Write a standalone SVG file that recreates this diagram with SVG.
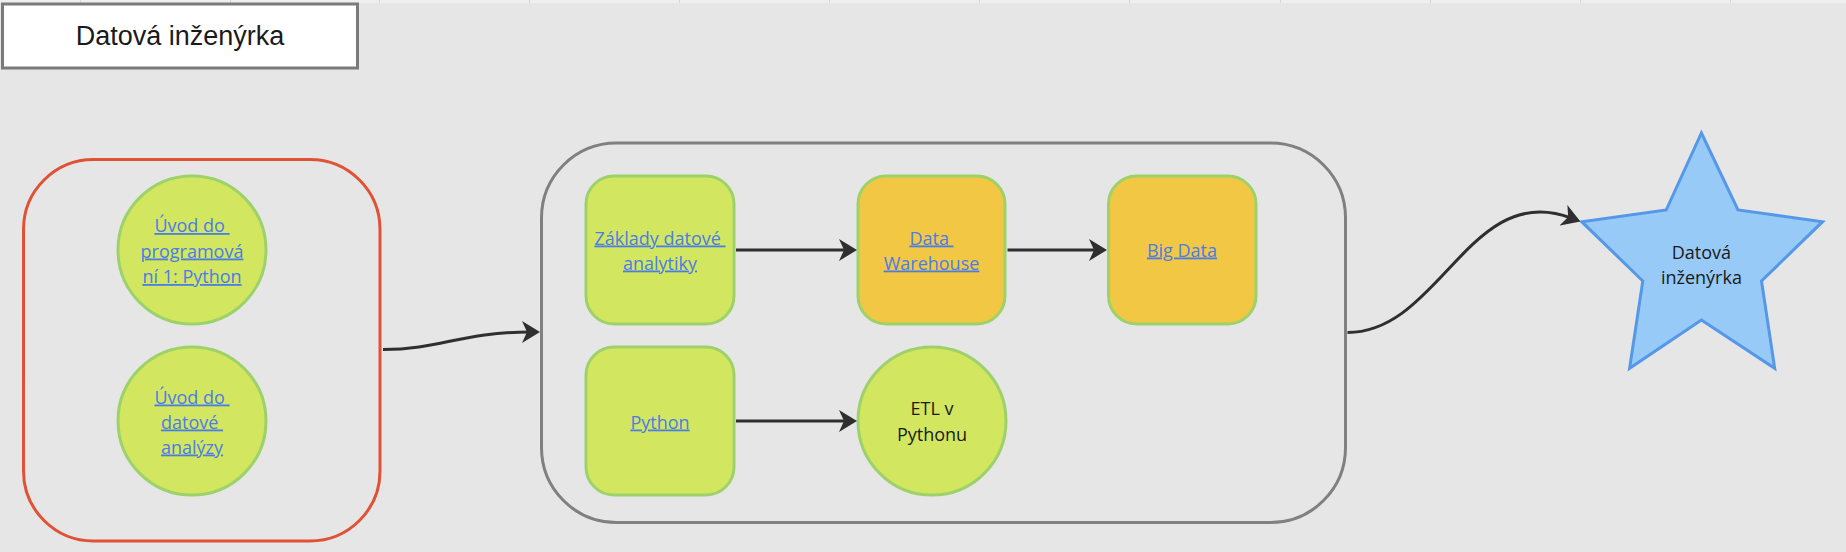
<svg xmlns="http://www.w3.org/2000/svg" width="1846" height="552" viewBox="0 0 1846 552">
  <style>
    .bg { fill: #e6e6e6; }
    .sep { stroke: #d6d6d6; stroke-width: 1; }
    .title-box { fill: #ffffff; stroke: #7a7a7a; stroke-width: 3; }
    .title { font-family: "Liberation Sans", Arial, sans-serif; font-size: 27px; fill: #1a1a1a; text-anchor: middle; }
    .frame-red { fill: none; stroke: #e05236; stroke-width: 3; }
    .frame-gray { fill: none; stroke: #808080; stroke-width: 3; }
    .green { fill: #d3e660; stroke: #9dd26b; stroke-width: 3; }
    .orange { fill: #f2c744; stroke: #9dd26b; stroke-width: 3; }
    .star { fill: #97caf6; stroke: #5598e8; stroke-width: 3; stroke-linejoin: miter; }
    .link { font-family: "Open Sans", "Noto Sans", sans-serif; font-size: 18px; fill: #4a7de6; text-anchor: middle; text-decoration: underline; }
    .lbl { font-family: "Open Sans", "Noto Sans", sans-serif; font-size: 18px; fill: #1a1a1a; text-anchor: middle; }
    .conn { fill: none; stroke: #2f2f2f; stroke-width: 3; }
  </style>
  <defs>
    <marker id="arrow" viewBox="0 -12 20 24" markerWidth="20" markerHeight="24" refX="8" refY="0" orient="auto" markerUnits="userSpaceOnUse">
      <path d="M0,-11 L18,0 L0,11 L5,0 Z" fill="#2f2f2f"/>
    </marker>
  </defs>

  <rect class="bg" x="0" y="0" width="1846" height="552"/>
  <g id="ruler">
    <rect x="0" y="0" width="1846" height="3" fill="#efefef"/>
    <line class="sep" x1="80.5" y1="0" x2="80.5" y2="3"/>
    <line class="sep" x1="230.5" y1="0" x2="230.5" y2="3"/>
    <line class="sep" x1="379.5" y1="0" x2="379.5" y2="3"/>
    <line class="sep" x1="529.5" y1="0" x2="529.5" y2="3"/>
    <line class="sep" x1="679.5" y1="0" x2="679.5" y2="3"/>
    <line class="sep" x1="829.5" y1="0" x2="829.5" y2="3"/>
    <line class="sep" x1="979.5" y1="0" x2="979.5" y2="3"/>
    <line class="sep" x1="1129.5" y1="0" x2="1129.5" y2="3"/>
    <line class="sep" x1="1280.5" y1="0" x2="1280.5" y2="3"/>
    <line class="sep" x1="1430.5" y1="0" x2="1430.5" y2="3"/>
    <line class="sep" x1="1580.5" y1="0" x2="1580.5" y2="3"/>
    <line class="sep" x1="1730.5" y1="0" x2="1730.5" y2="3"/>
  </g>

  <g id="title">
    <rect class="title-box" x="2.5" y="4" width="355" height="64"/>
    <text class="title" x="180" y="45">Datová inženýrka</text>
  </g>

  <g id="group-intro">
    <rect class="frame-red" x="23.5" y="159.5" width="356.5" height="381.5" rx="70" ry="70"/>
  </g>
  <g id="node-uvod-programovani">
    <circle class="green" cx="192" cy="250" r="74"/>
    <text class="link" x="192" xml:space="preserve"><tspan x="192" y="232">Úvod do </tspan><tspan x="192" y="257.5">programová</tspan><tspan x="192" y="283">ní 1: Python</tspan></text>
  </g>
  <g id="node-uvod-analyzy">
    <circle class="green" cx="192" cy="421" r="74"/>
    <text class="link" x="192" xml:space="preserve"><tspan x="192" y="403.5">Úvod do </tspan><tspan x="192" y="428.5">datové </tspan><tspan x="192" y="453.5">analýzy</tspan></text>
  </g>

  <g id="group-core">
    <rect class="frame-gray" x="541.5" y="143" width="804" height="379.5" rx="75" ry="75"/>
  </g>
  <g id="node-zaklady">
    <rect class="green" x="586" y="176" width="148" height="148" rx="28" ry="28"/>
    <text class="link" xml:space="preserve"><tspan x="660" y="244.5">Základy datové </tspan><tspan x="660" y="269.5">analytiky</tspan></text>
  </g>
  <g id="node-dw">
    <rect class="orange" x="858" y="176" width="147" height="148" rx="28" ry="28"/>
    <text class="link" xml:space="preserve"><tspan x="931.5" y="244.5">Data </tspan><tspan x="931.5" y="269.5">Warehouse</tspan></text>
  </g>
  <g id="node-bigdata">
    <rect class="orange" x="1108.5" y="176" width="147.5" height="148" rx="28" ry="28"/>
    <text class="link" x="1182" y="256.5">Big Data</text>
  </g>
  <g id="node-python">
    <rect class="green" x="586" y="347" width="148" height="148" rx="28" ry="28"/>
    <text class="link" x="660" y="428.5">Python</text>
  </g>
  <g id="node-etl">
    <circle class="green" cx="932" cy="421" r="74"/>
    <text class="lbl"><tspan x="932" y="414.5">ETL v</tspan><tspan x="932" y="440.5">Pythonu</tspan></text>
  </g>

  <g id="node-goal">
    <polygon class="star" points="1701.4,133 1738,210 1822.6,221.7 1761.5,281 1774.7,368.3 1701.4,320 1629.6,368.3 1642.8,281 1581.7,221.7 1666.2,210"/>
    <text class="lbl"><tspan x="1701.4" y="258.5">Datová</tspan><tspan x="1701.4" y="283.5">inženýrka</tspan></text>
  </g>

  <g id="connectors">
    <path class="conn" d="M383,349.5 C440,349.5 462,332 530,332" marker-end="url(#arrow)"/>
    <path class="conn" d="M736,250 L847,250" marker-end="url(#arrow)"/>
    <path class="conn" d="M1007.5,250 L1097,250" marker-end="url(#arrow)"/>
    <path class="conn" d="M736,421 L847,421" marker-end="url(#arrow)"/>
    <path class="conn" d="M1347.5,332.5 C1440,332.5 1470,180 1571,218" marker-end="url(#arrow)"/>
  </g>
</svg>
